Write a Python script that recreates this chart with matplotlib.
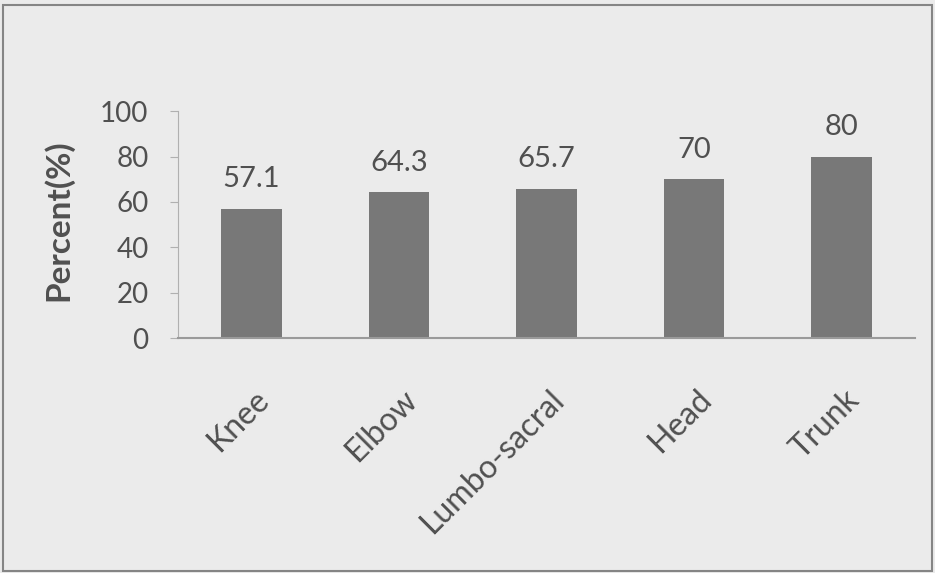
import matplotlib.pyplot as plt
from matplotlib.patches import Rectangle
from matplotlib.transforms import ScaledTranslation

# datos de las regiones del cuerpo
regiones = ['Knee', 'Elbow', 'Lumbo-sacral', 'Head', 'Trunk']
porcentajes = [57.1, 64.3, 65.7, 70, 80]
etiquetas = ['57.1', '64.3', '65.7', '70', '80']

plt.rcParams['font.family'] = ['Lato', 'DejaVu Sans']
gris_texto = '#505050'

fig = plt.figure(figsize=(9.35, 5.73), dpi=100)
fig.patch.set_facecolor('#ebebeb')
fig.patches.append(Rectangle((0.003, 0.003), 0.994, 0.988, transform=fig.transFigure,
                             fill=False, edgecolor='#858585', linewidth=1.5))

ax = fig.add_axes([0.19, 0.41, 0.789, 0.396])
ax.set_facecolor('#ebebeb')

x = range(len(regiones))
barras = ax.bar(x, porcentajes, width=0.41, color='#787878')

# valor encima de cada barra
for b, txt in zip(barras, etiquetas):
    ax.annotate(txt, (b.get_x() + b.get_width() / 2, b.get_height()),
                xytext=(0, 12), textcoords='offset points',
                ha='center', va='bottom', fontsize=21, color=gris_texto)

ax.set_xlim(-0.5, 4.5)
ax.set_ylim(0, 100)
ax.set_yticks([0, 20, 40, 60, 80, 100])
ax.set_xticks(list(x))
ax.set_xticklabels(regiones, rotation=45, ha='right', va='center',
                   rotation_mode='anchor', fontsize=23, color=gris_texto)
ax.tick_params(axis='y', labelsize=20, labelcolor=gris_texto, color='#b0b0b0',
               length=6, pad=15)
ax.tick_params(axis='x', length=0, pad=41)

# desplaza las etiquetas del eje x un poco a la derecha
desplazamiento = ScaledTranslation(0.13, 0, fig.dpi_scale_trans)
for lab in ax.get_xticklabels():
    lab.set_transform(lab.get_transform() + desplazamiento)

ax.set_ylabel('Percent(%)', fontsize=24, fontweight='bold', color=gris_texto)
ax.yaxis.set_label_coords(-0.142, 0.52)

for lado in ['top', 'right']:
    ax.spines[lado].set_visible(False)
ax.spines['left'].set_color('#b0b0b0')
ax.spines['bottom'].set_color('#9a9a9a')
ax.spines['bottom'].set_linewidth(1.5)

fig.savefig('out.png', dpi=100, facecolor=fig.get_facecolor())
